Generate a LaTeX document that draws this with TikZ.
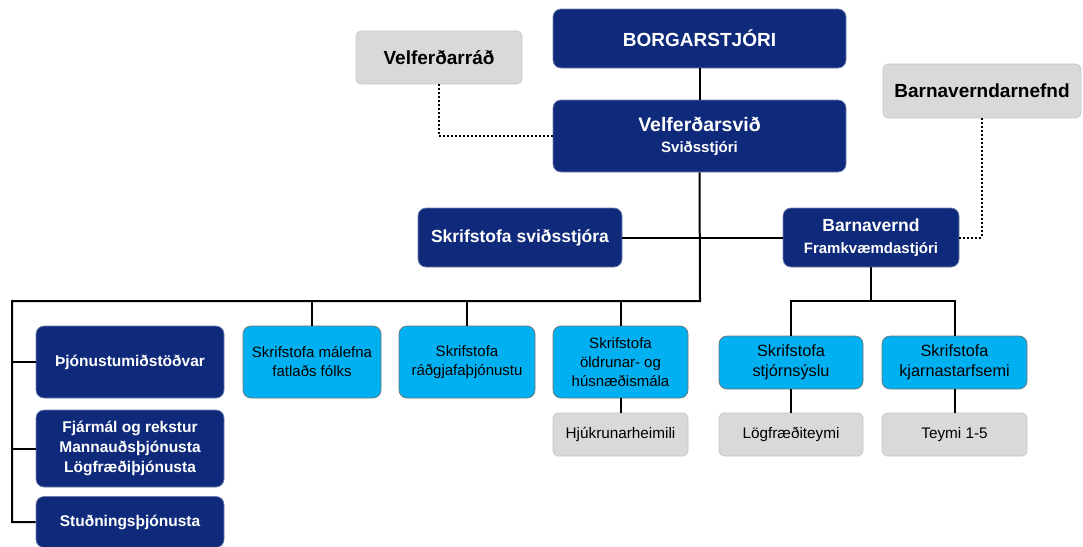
\documentclass[tikz,border=0pt]{standalone}
\usepackage{fontspec}
\setmainfont{Liberation Sans}
\usepackage{tikz}
\definecolor{navy}{RGB}{15,42,122}
\definecolor{skyblue}{RGB}{0,176,240}
\definecolor{boxgrey}{RGB}{217,217,217}
\newcommand{\fsz}[2]{\fontsize{#1}{#2}\selectfont}
\newcommand{\linkWidth}[0]{2pt}
\newcommand{\boxRadius}[0]{8pt}

\begin{document}
\begin{tikzpicture}[x=1pt, y=-1pt]
  \tikzset{
    orgbox/.style={rounded corners=\boxRadius, align=center, inner sep=0pt, line width=0.7pt},
    navybox/.style={orgbox, fill=navy, draw=navy!60!white, text=white, font=\bfseries},
    bluebox/.style={orgbox, fill=skyblue, draw=black!55, font=\fsz{15}{19}},
    greybox/.style={orgbox, fill=boxgrey, draw=black!22, rounded corners=5pt},
    link/.style={line width=\linkWidth},
    dotlink/.style={line width=\linkWidth, dotted}
  }
  \useasboundingbox (0,0) rectangle (1083,546);
  % top levels
  \node[navybox, minimum width=293, minimum height=59, font=\bfseries\fsz{19}{22}] (borg) at (699.5,38.5) {BORGARSTJÓRI};
  \node[greybox, minimum width=166, minimum height=53, font=\bfseries\fsz{19}{22}] (vrad) at (439,57.5) {Velferðarráð};
  \node[greybox, minimum width=198, minimum height=54, font=\bfseries\fsz{19}{22}] (bnefnd) at (982,91) {Barnaverndarnefnd};
  \node[navybox, minimum width=293, minimum height=72, font=\bfseries\fsz{15}{21}] (vsvid) at (699.5,136)
    {\fsz{19.5}{21}Velferðarsvið\\\fsz{15}{21}Sviðsstjóri};
  \node[navybox, minimum width=204, minimum height=59, font=\bfseries\fsz{17.5}{21}] (sskr) at (520,237.5) {Skrifstofa sviðsstjóra};
  \node[navybox, minimum width=176, minimum height=59, font=\bfseries\fsz{15}{22}] (bvernd) at (871,237.5)
    {\fsz{17.5}{22}Barnavernd\\\fsz{15}{22}Framkvæmdastjóri};
  % left column
  \node[navybox, minimum width=188, minimum height=72, font=\bfseries\fsz{15.5}{20}] (thjon) at (130,362) {Þjónustumiðstöðvar};
  \node[navybox, minimum width=188, minimum height=77, font=\bfseries\fsz{15.5}{20}] (fjarm) at (130,448.5)
    {Fjármál og rekstur\\Mannauðsþjónusta\\Lögfræðiþjónusta};
  \node[navybox, minimum width=188, minimum height=51, font=\bfseries\fsz{15.5}{20}] (stud) at (130,522) {Stuðningsþjónusta};
  % offices
  \node[bluebox, minimum width=138, minimum height=72] (fatl) at (312,362) {Skrifstofa málefna\\fatlaðs fólks};
  \node[bluebox, minimum width=136, minimum height=72] (radg) at (467,362) {Skrifstofa\\ráðgjafaþjónustu};
  \node[bluebox, minimum width=135, minimum height=72] (oldr) at (620.5,362) {Skrifstofa\\öldrunar- og\\húsnæðismála};
  \node[bluebox, minimum width=144, minimum height=53, font=\fsz{16.3}{20}] (stjorn) at (791,362.5) {Skrifstofa\\stjórnsýslu};
  \node[bluebox, minimum width=145, minimum height=53, font=\fsz{16.3}{20}] (kjarn) at (954.5,362.5) {Skrifstofa\\kjarnastarfsemi};
  \node[greybox, minimum width=135, minimum height=43, font=\fsz{15.3}{19}] (hjuk) at (620.5,434.5) {Hjúkrunarheimili};
  \node[greybox, minimum width=144, minimum height=43, font=\fsz{15.3}{19}] (logfr) at (791,434.5) {Lögfræðiteymi};
  \node[greybox, minimum width=145, minimum height=43, font=\fsz{15.3}{19}] (teymi) at (954.5,434.5) {Teymi 1-5};
  \coordinate (busL) at (12,301);
  \coordinate (busR) at (700,301);
  % connectors
  \draw[link] (borg) -- (vsvid);
  \draw[link] (vsvid.south) -- (busR) -- (busL) |- (stud.west);
  \draw[link] (busL |- thjon.west) -- (thjon.west);
  \draw[link] (busL |- fjarm.west) -- (fjarm.west);
  \draw[link] (sskr.east) -- (bvernd.west);
  \draw[link] (fatl.north |- busR) -- (fatl.north);
  \draw[link] (radg.north |- busR) -- (radg.north);
  \draw[link] (oldr.north |- busR) -- (oldr.north);
  \draw[link] (oldr) -- (hjuk);
  \draw[link] (bvernd.south) -- (bvernd.south |- busR);
  \draw[link] (stjorn.north) -- (stjorn.north |- busR) -- (kjarn.north |- busR) -- (kjarn.north);
  \draw[link] (stjorn) -- (logfr);
  \draw[link] (kjarn) -- (teymi);
  \draw[dotlink] (vrad.south) |- (vsvid.west);
  \draw[dotlink] (bnefnd.south) |- (bvernd.east);
\end{tikzpicture}
\end{document}
